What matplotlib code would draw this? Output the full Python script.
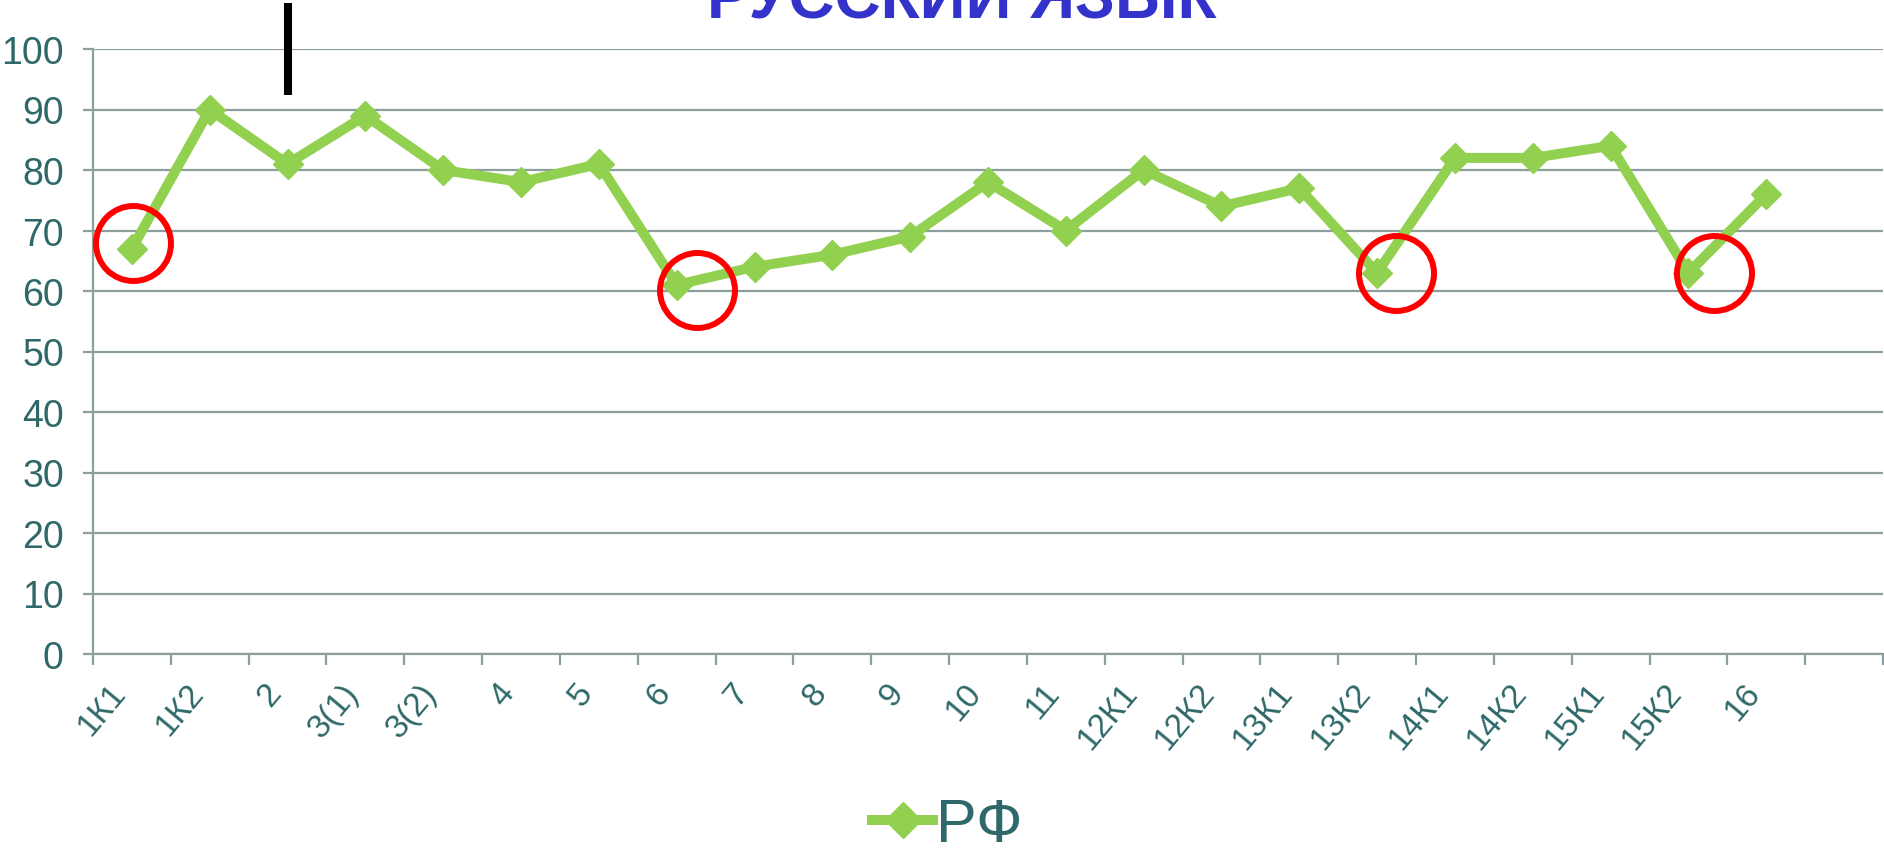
import matplotlib
matplotlib.use("Agg")
import matplotlib.pyplot as plt

# Данные
categories = ["1К1", "1К2", "2", "3(1)", "3(2)", "4", "5", "6", "7", "8", "9", "10", "11",
              "12К1", "12К2", "13К1", "13К2", "14К1", "14К2", "15К1", "15К2", "16"]
values_rf = [67, 90, 81, 89, 80, 78, 81, 61, 64, 66, 69, 78, 70,
             80, 74, 77, 63, 82, 82, 84, 63, 76]
n_slots = 23  # в оригинале есть пустая категория в конце

# Отметки (красные круги)
circle_x = [0.02, 7.26, 16.24, 20.33]
circle_y = [67.9, 60.2, 63.0, 63.0]

plt.rcParams['font.family'] = ['Liberation Sans', 'DejaVu Sans']

green = '#92D050'
grid_col = '#8C9E9E'
text_col = '#2F6868'

fig = plt.figure(figsize=(18.84, 8.53), dpi=100)
ax = fig.add_axes([93 / 1884, 198 / 853, 1790 / 1884, 605 / 853])

x = list(range(len(values_rf)))
ax.plot(x, values_rf, color=green, lw=7.2, marker='D', markersize=15,
        label='РФ', zorder=3)

ax.plot(circle_x, circle_y, linestyle='none', marker='o', markersize=54,
        markerfacecolor='none', markeredgecolor='#FF0000', markeredgewidth=4.3,
        clip_on=False, zorder=4)

# черная вертикальная метка
ax.plot([2, 2], [92.4, 107.6], color='black', lw=5.8, solid_capstyle='butt',
        clip_on=False, zorder=5)

ax.set_xlim(-0.5, n_slots - 0.5)
ax.set_ylim(0, 100)
ax.set_yticks(range(0, 101, 10))
ax.yaxis.grid(True, color=grid_col, lw=1.6)
ax.set_axisbelow(True)

ax.set_xticks(x)
ax.set_xticklabels(categories, rotation=50, ha='right', va='top')
ax.set_xticks([i - 0.5 for i in range(n_slots + 1)], minor=True)
ax.tick_params(axis='x', which='major', length=0, pad=17, labelsize=24, labelcolor=text_col)
ax.tick_params(axis='x', which='minor', length=8, width=1.6, color=grid_col, direction='out')
ax.tick_params(axis='y', length=7, width=1.6, color=grid_col, pad=14,
               labelsize=27, labelcolor=text_col)

for s in ['top', 'right']:
    ax.spines[s].set_visible(False)
for s in ['left', 'bottom']:
    ax.spines[s].set_color(grid_col)
    ax.spines[s].set_linewidth(1.6)

fig.text(962 / 1884, 835 / 853, 'РУССКИЙ ЯЗЫК', ha='center', va='baseline',
         fontsize=46, fontweight='bold', color='#3333CC')

leg = fig.legend(loc='center', bbox_to_anchor=(0.503, 26 / 853), frameon=False,
                 fontsize=44, handlelength=1.0, handletextpad=0.05, labelcolor=text_col,
                 markerscale=1.2)

fig.savefig('out.png', dpi=100)
